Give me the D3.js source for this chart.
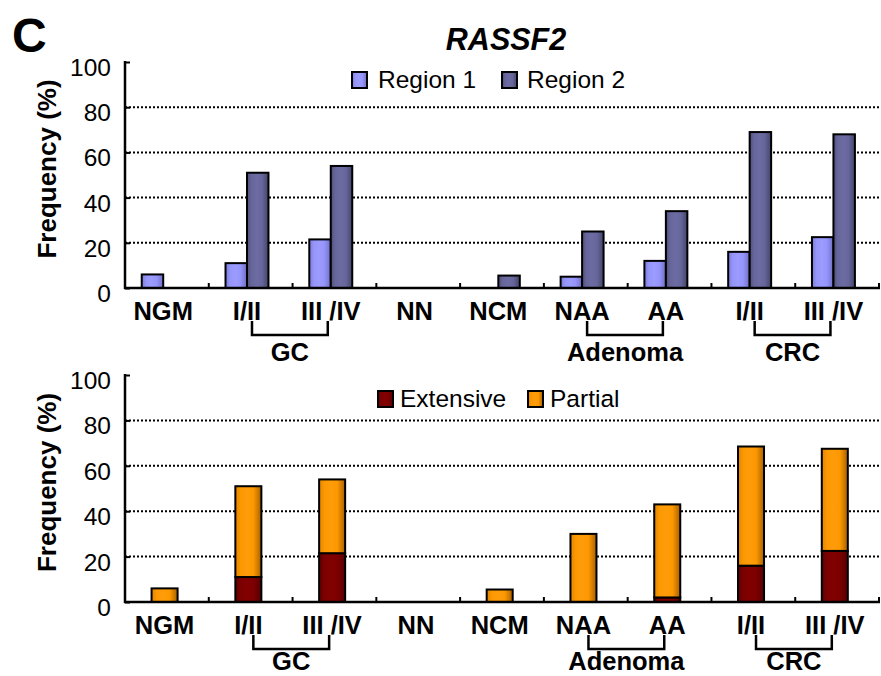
<!DOCTYPE html>
<html>
<head>
<meta charset="utf-8">
<script src="https://cdn.jsdelivr.net/npm/d3@7"></script>
<style>
  html, body { margin: 0; padding: 0; background: #fff; }
  svg { display: block; font-family: "Liberation Sans", Arial, Helvetica, sans-serif; }
</style>
</head>
<body>
<svg id="chart" width="881" height="676"></svg>
<script>
// RASSF2 methylation frequency by tissue type
const categories = ["NGM", "I/II", "III /IV", "NN", "NCM", "NAA", "AA", "I/II", "III /IV"];
const region1 = [6, 11, 21.5, 0, 0, 5, 12, 16, 22.5];
const region2 = [0, 51, 54, 0, 5.5, 25, 34, 69, 68];
const extensive = [0, 11, 21.5, 0, 0, 0, 2, 16, 22.5];
const partial = [6, 40, 32.5, 0, 5.5, 30, 41, 52.5, 45];
const groupNames = ["GC", "Adenoma", "CRC"];
const groupSpans = [[1, 2], [5, 6], [7, 8]];
const yTicks = [0, 20, 40, 60, 80, 100];
const gridTicks = [20, 40, 60, 80];

const svg = d3.select("#chart");
const defs = svg.append("defs");

// horizontal "tube" shading for bars
function tube(id, edgeL, base, light, edgeR) {
  const g = defs.append("linearGradient").attr("id", id)
    .attr("x1", "0").attr("x2", "1").attr("y1", "0").attr("y2", "0");
  g.append("stop").attr("offset", "0").attr("stop-color", edgeL);
  g.append("stop").attr("offset", "0.2").attr("stop-color", base);
  g.append("stop").attr("offset", "0.45").attr("stop-color", light);
  g.append("stop").attr("offset", "0.7").attr("stop-color", base);
  g.append("stop").attr("offset", "1").attr("stop-color", edgeR);
}
tube("gR1", "#7b7bd6", "#9494fa", "#9c9cff", "#6f6fc4");
tube("gR2", "#4f4f7a", "#66669b", "#6c6ca3", "#44446a");
tube("gExt", "#5e0000", "#7c0000", "#820000", "#560000");
tube("gPar", "#e08600", "#fc9800", "#ff9c0a", "#a86000");

const x = d3.scaleBand()
  .domain(d3.range(categories.length))
  .range([125, 879])
  .paddingInner(0).paddingOuter(0);

// two grouped bars inside each category band
const xPair = d3.scaleBand()
  .domain(["r1", "r2"])
  .range([0, x.bandwidth()])
  .paddingInner(0).paddingOuter(0.95).align(0.41);

// one stacked bar inside each category band
const xSingle = d3.scaleBand()
  .domain(["all"])
  .range([0, x.bandwidth()])
  .paddingInner(0).paddingOuter(1.11).align(0.46);

function drawPanel(top, bottom) {
  const y = d3.scaleLinear().domain([0, 100]).range([bottom, top]);
  const g = svg.append("g");

  // dotted gridlines
  g.selectAll("line.grid").data(gridTicks).join("line")
    .attr("x1", 125).attr("x2", 879)
    .attr("y1", d => y(d)).attr("y2", d => y(d))
    .attr("stroke", "#000").attr("stroke-width", 2)
    .attr("stroke-dasharray", "2,2");

  // y axis
  const yAxis = d3.axisLeft(y).tickValues(yTicks).tickSize(-5).tickPadding(14);
  const ya = g.append("g").attr("transform", "translate(125,0)").call(yAxis);
  ya.select(".domain").remove();
  ya.selectAll(".tick line").attr("stroke", "#000").attr("stroke-width", 2);
  ya.selectAll(".tick text")
    .attr("font-size", 24.5).attr("font-family", "Liberation Sans, Arial, sans-serif")
    .attr("fill", "#000").attr("dy", "0.55em");
  g.append("line").attr("x1", 125).attr("x2", 125)
    .attr("y1", y(100) - 1).attr("y2", y(0) + 1)
    .attr("stroke", "#000").attr("stroke-width", 2.5);

  // y title
  g.append("text")
    .attr("transform", `translate(56,${(top + bottom) / 2 - 6}) rotate(-90)`)
    .attr("text-anchor", "middle")
    .attr("font-size", 26).attr("font-weight", "bold")
    .text("Frequency (%)");

  return { g, y };
}

function drawCategoryAxis(g, y, bottom, centerOf, groupBaseline) {
  // baseline and small inner ticks between categories
  g.append("line").attr("x1", 124).attr("x2", 880)
    .attr("y1", bottom).attr("y2", bottom)
    .attr("stroke", "#000").attr("stroke-width", 2.5);
  const bounds = d3.range(1, categories.length + 1).map(i => 125 + i * x.step());
  g.selectAll("line.xt").data(bounds).join("line")
    .attr("x1", d => d).attr("x2", d => d)
    .attr("y1", bottom).attr("y2", bottom - 5)
    .attr("stroke", "#000").attr("stroke-width", 2);

  g.selectAll("text.cat").data(categories).join("text")
    .attr("x", (d, i) => centerOf(i))
    .attr("y", bottom + 32)
    .attr("text-anchor", "middle")
    .attr("font-size", 25.5).attr("font-weight", "bold")
    .text(d => d);

  // group brackets
  groupSpans.forEach((s, k) => {
    const x0 = centerOf(s[0]) + 5, x1 = centerOf(s[1]) - 3;
    const yA = bottom + 33, yB = bottom + 47;
    g.append("path")
      .attr("d", `M${x0},${yA}V${yB}H${x1}V${yA}`)
      .attr("fill", "none").attr("stroke", "#000").attr("stroke-width", 2.5);
    g.append("text")
      .attr("x", (x0 + x1) / 2).attr("y", groupBaseline)
      .attr("text-anchor", "middle")
      .attr("font-size", 25.5).attr("font-weight", "bold")
      .text(groupNames[k]);
  });
}

function legendItem(g, xPos, yPos, fill, label, textX) {
  g.append("rect").attr("x", xPos).attr("y", yPos).attr("width", 15).attr("height", 16)
    .attr("fill", fill).attr("stroke", "#000").attr("stroke-width", 2);
  g.append("text").attr("x", textX).attr("y", yPos + 16)
    .attr("font-size", 24.5).text(label);
}

// ---- panel letter and title
svg.append("text").attr("x", 12).attr("y", 52)
  .attr("font-size", 48).attr("font-weight", "bold").text("C");
svg.append("text").attr("x", 506).attr("y", 50)
  .attr("text-anchor", "middle")
  .attr("font-size", 30.5).attr("font-weight", "bold").attr("font-style", "italic")
  .text("RASSF2");

// ---- top panel: Region 1 / Region 2 grouped bars
{
  const { g, y } = drawPanel(62, 288);
  const series = [
    { key: "r1", values: region1, fill: "url(#gR1)" },
    { key: "r2", values: region2, fill: "url(#gR2)" }
  ];
  series.forEach(s => {
    g.selectAll(null).data(s.values.map((v, i) => ({ v, i })).filter(d => d.v > 0)).join("rect")
      .attr("x", d => x(d.i) + xPair(s.key))
      .attr("y", d => y(d.v))
      .attr("width", xPair.bandwidth())
      .attr("height", d => y(0) - y(d.v))
      .attr("fill", s.fill).attr("stroke", "#000").attr("stroke-width", 2);
  });
  const pairCenter = i => x(i) + xPair("r1") + xPair.bandwidth();
  drawCategoryAxis(g, y, 288, pairCenter, 361);
  legendItem(g, 352, 72, "url(#gR1)", "Region 1", 378);
  legendItem(g, 502, 72, "url(#gR2)", "Region 2", 527);
}

// ---- bottom panel: Extensive / Partial stacked bars
{
  const { g, y } = drawPanel(375, 602);
  const rows = categories.map((c, i) => ({ i, extensive: extensive[i], partial: partial[i] }));
  const stacked = d3.stack().keys(["extensive", "partial"])(rows);
  const fills = { extensive: "url(#gExt)", partial: "url(#gPar)" };
  stacked.forEach(layer => {
    g.selectAll(null).data(layer.filter(d => d[1] - d[0] > 0)).join("rect")
      .attr("x", d => x(d.data.i) + xSingle("all"))
      .attr("y", d => y(d[1]))
      .attr("width", xSingle.bandwidth())
      .attr("height", d => y(d[0]) - y(d[1]))
      .attr("fill", fills[layer.key]).attr("stroke", "#000").attr("stroke-width", 2);
  });
  const barCenter = i => x(i) + xSingle("all") + xSingle.bandwidth() / 2;
  drawCategoryAxis(g, y, 602, barCenter, 670);
  legendItem(g, 378, 391, "url(#gExt)", "Extensive", 400);
  legendItem(g, 528, 391, "url(#gPar)", "Partial", 550);
}
</script>
</body>
</html>
